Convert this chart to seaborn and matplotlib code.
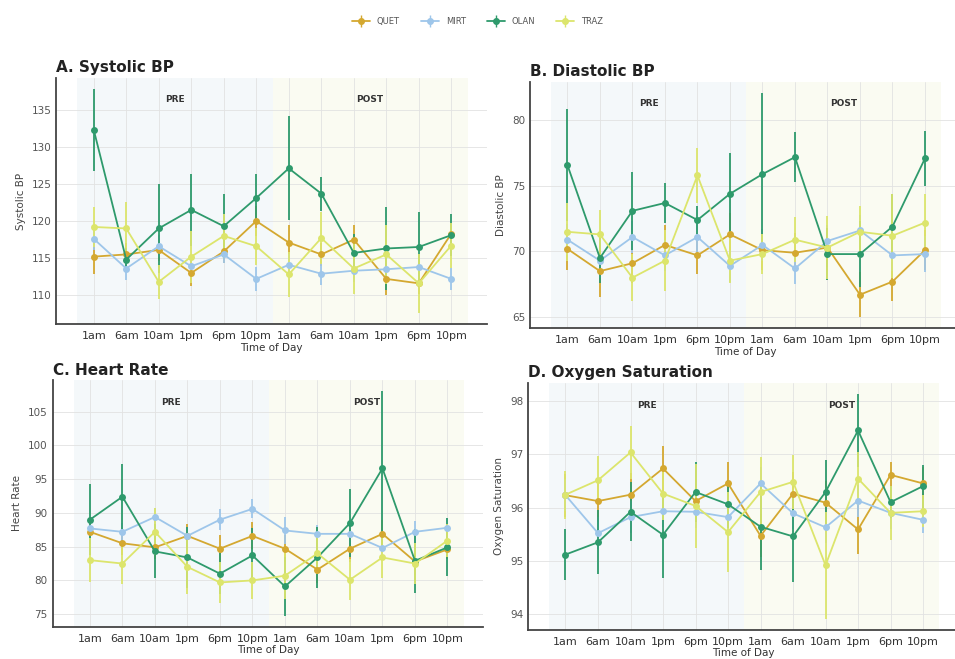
import numpy as np
import pandas as pd
import seaborn as sns
from matplotlib import pyplot as plt

# time points, two days (PRE / POST)
times = ["1am", "6am", "10am", "1pm", "6pm", "10pm"] * 2
drugs = ["QUET", "MIRT", "OLAN", "TRAZ"]
colors = {"QUET": "#D4A830", "MIRT": "#9EC6EA", "OLAN": "#2E9A6C", "TRAZ": "#DCE56C"}

# A. Systolic BP (mean, error half-width)
sys_mean = {
    "QUET": [115.2, 115.5, 116.1, 113.0, 115.9, 120.0, 117.1, 115.5, 117.5, 112.2, 111.6, 118.3],
    "MIRT": [117.6, 113.6, 116.6, 113.9, 115.5, 112.2, 114.1, 112.9, 113.3, 113.5, 113.8, 112.2],
    "OLAN": [132.3, 114.8, 119.0, 121.5, 119.3, 123.1, 127.1, 123.7, 115.7, 116.3, 116.5, 118.1],
    "TRAZ": [119.2, 119.0, 111.8, 115.2, 118.0, 116.6, 112.8, 117.7, 113.6, 115.5, 111.6, 116.7],
}
sys_err = {
    "QUET": [2.3, 1.5, 1.5, 1.8, 1.5, 2.0, 2.3, 1.5, 2.0, 2.2, 1.5, 1.5],
    "MIRT": [1.5, 1.5, 1.5, 1.2, 1.2, 1.6, 1.5, 1.5, 1.5, 1.3, 1.5, 1.5],
    "OLAN": [5.5, 1.5, 6.0, 4.8, 4.3, 3.2, 7.0, 2.3, 2.5, 5.6, 4.7, 2.8],
    "TRAZ": [2.7, 3.5, 2.3, 3.5, 3.0, 2.5, 3.0, 3.5, 3.5, 4.0, 4.0, 3.0],
}

# B. Diastolic BP
dia_mean = {
    "QUET": [70.2, 68.5, 69.1, 70.5, 69.7, 71.3, 70.1, 69.9, 70.3, 66.7, 67.7, 70.1],
    "MIRT": [70.9, 69.3, 71.1, 69.7, 71.1, 68.9, 70.5, 68.7, 70.8, 71.6, 69.7, 69.8],
    "OLAN": [76.6, 69.5, 73.1, 73.7, 72.4, 74.4, 75.9, 77.2, 69.8, 69.8, 71.9, 77.1],
    "TRAZ": [71.5, 71.3, 68.0, 69.3, 75.8, 69.3, 69.8, 70.9, 70.3, 71.5, 71.2, 72.2],
}
dia_err = {
    "QUET": [1.6, 2.0, 1.5, 1.5, 1.4, 1.6, 1.5, 1.5, 1.5, 1.7, 1.5, 1.5],
    "MIRT": [1.2, 1.3, 1.2, 1.2, 1.2, 1.2, 1.2, 1.2, 1.2, 1.2, 1.2, 1.4],
    "OLAN": [4.3, 1.9, 3.0, 1.5, 1.1, 3.1, 6.2, 1.9, 2.0, 2.5, 2.5, 2.1],
    "TRAZ": [2.2, 1.9, 1.8, 2.3, 2.1, 1.7, 1.5, 1.7, 2.4, 2.0, 3.2, 2.2],
}

# C. Heart Rate
hr_mean = {
    "QUET": [87.2, 85.5, 84.9, 86.6, 84.7, 86.6, 84.7, 81.6, 84.7, 86.9, 82.8, 84.6],
    "MIRT": [87.7, 87.2, 89.4, 86.6, 89.0, 90.6, 87.4, 86.9, 86.9, 84.8, 87.2, 87.8],
    "OLAN": [89.0, 92.4, 84.3, 83.4, 81.0, 83.7, 79.1, 83.4, 88.5, 96.6, 82.9, 84.9],
    "TRAZ": [83.0, 82.5, 87.2, 82.0, 79.7, 80.0, 80.7, 84.0, 80.1, 83.4, 82.5, 85.9],
}
hr_err = {
    "QUET": [1.8, 1.8, 1.8, 1.8, 2.0, 2.0, 2.0, 2.0, 2.0, 2.0, 2.0, 1.5],
    "MIRT": [1.2, 1.3, 1.3, 1.3, 1.6, 1.4, 2.0, 1.3, 1.3, 1.3, 1.6, 1.5],
    "OLAN": [5.3, 4.8, 4.0, 4.5, 3.0, 4.0, 4.3, 4.5, 5.0, 11.4, 4.7, 4.3],
    "TRAZ": [3.3, 3.0, 3.5, 4.0, 3.0, 2.8, 3.5, 3.0, 3.0, 3.0, 3.0, 2.5],
}

# D. Oxygen Saturation
o2_mean = {
    "QUET": [96.23, 96.12, 96.24, 96.73, 96.12, 96.45, 95.47, 96.26, 96.09, 95.59, 96.61, 96.45],
    "MIRT": [96.23, 95.52, 95.82, 95.93, 95.92, 95.82, 96.45, 95.89, 95.63, 96.13, 95.90, 95.77],
    "OLAN": [95.12, 95.35, 95.92, 95.49, 96.29, 96.06, 95.64, 95.46, 96.29, 97.44, 96.10, 96.40],
    "TRAZ": [96.24, 96.51, 97.03, 96.26, 96.03, 95.54, 96.29, 96.48, 94.92, 96.54, 95.90, 95.93],
}
o2_err = {
    "QUET": [0.40, 0.40, 0.40, 0.42, 0.40, 0.40, 0.40, 0.40, 0.40, 0.45, 0.25, 0.30],
    "MIRT": [0.30, 0.30, 0.30, 0.30, 0.30, 0.30, 0.30, 0.30, 0.30, 0.30, 0.30, 0.25],
    "OLAN": [0.48, 0.60, 0.55, 0.80, 0.57, 0.45, 0.80, 0.85, 0.60, 0.68, 0.30, 0.40],
    "TRAZ": [0.45, 0.45, 0.50, 0.50, 0.78, 0.75, 0.65, 0.50, 1.00, 0.50, 0.50, 0.30],
}

panels = [
    ("A. Systolic BP", "Systolic BP", sys_mean, sys_err, [0.059, 0.508, 0.451, 0.374], [110, 115, 120, 125, 130, 135]),
    ("B. Diastolic BP", "Diastolic BP", dia_mean, dia_err, [0.555, 0.502, 0.451, 0.374], [65, 70, 75, 80]),
    ("C. Heart Rate", "Heart Rate", hr_mean, hr_err, [0.055, 0.049, 0.451, 0.374], [75, 80, 85, 90, 95, 100, 105]),
    ("D. Oxygen Saturation", "Oxygen Saturation", o2_mean, o2_err, [0.553, 0.044, 0.451, 0.375], [94, 95, 96, 97, 98]),
]


def long_frame(means, errs):
    rows = []
    for d in drugs:
        for i, t in enumerate(times):
            rows.append({"drug": d, "pos": i, "time": t, "mean": means[d][i], "err": errs[d][i]})
    return pd.DataFrame(rows)


sns.set_style("white")
plt.rcParams['font.family'] = ['DejaVu Sans']

fig = plt.figure(figsize=(9.55, 6.59), dpi=100)

for title, ylab, means, errs, rect, yticks in panels:
    ax = fig.add_axes(rect)
    df = long_frame(means, errs)

    # PRE / POST shading, very faint
    ax.axvspan(-0.5, 5.5, color="#F4F8FA", lw=0, zorder=0)
    ax.axvspan(5.5, 11.5, color="#FAFBF2", lw=0, zorder=0)

    for d in drugs:
        sub = df[df["drug"] == d]
        ax.errorbar(sub["pos"], sub["mean"], yerr=sub["err"], fmt="none",
                    ecolor=colors[d], elinewidth=1.3, capsize=0, zorder=2)
    sns.lineplot(data=df, x="pos", y="mean", hue="drug", hue_order=drugs, palette=colors,
                 marker="o", markersize=5, markeredgewidth=0, linewidth=1.3,
                 legend=False, ax=ax, zorder=3)

    ax.set_xlim(-1.15, 12.1)
    ax.set_xticks(range(len(times)))
    ax.set_xticklabels(times, fontsize=8, color="#333333")
    ax.set_yticks(yticks)
    ax.tick_params(axis="y", labelsize=7.5, colors="#555555", length=0)
    ax.tick_params(axis="x", length=3, color="#444444", pad=2)
    ax.grid(True, color="#E2E2E2", linewidth=0.6, linestyle="-")
    ax.set_axisbelow(True)
    sns.despine(ax=ax)
    for s in ["left", "bottom"]:
        ax.spines[s].set_color("#444444")
        ax.spines[s].set_linewidth(1.3)

    ax.set_xlabel("Time of Day", fontsize=7.5, color="#333333", labelpad=1)
    ax.set_ylabel(ylab, fontsize=7.5, color="#444444")
    ax.set_title(title, loc="left", fontsize=11, fontweight="bold", color="#222222", pad=4)

    ax.text(2.5, 0.9, "PRE", transform=ax.get_xaxis_transform(), ha="center",
            fontsize=6.5, fontweight="bold", color="#333333")
    ax.text(8.5, 0.9, "POST", transform=ax.get_xaxis_transform(), ha="center",
            fontsize=6.5, fontweight="bold", color="#333333")

# legend handles look like point + error bar
handles = []
for d in drugs:
    line = plt.Line2D([], [], color=colors[d], marker="o", markersize=4, linewidth=1.3)
    tick = plt.Line2D([], [], color=colors[d], marker="|", markersize=8, linestyle="none")
    handles.append((line, tick))

fig.legend(handles, drugs, loc="center", bbox_to_anchor=(0.5, 0.968), ncol=4,
           frameon=False, fontsize=6, handlelength=2.2, columnspacing=2.5,
           labelcolor="#555555")

fig.savefig("out.png", dpi=100, facecolor="white")
